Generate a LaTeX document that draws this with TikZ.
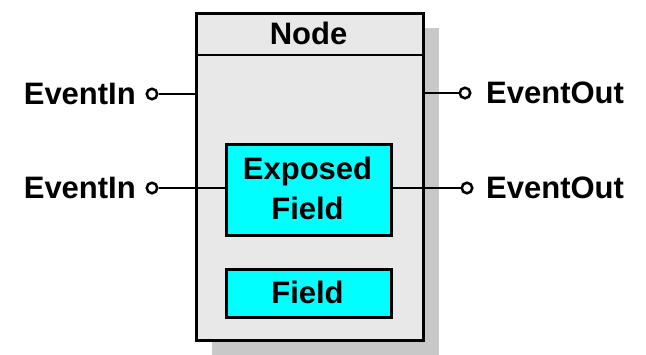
\documentclass[tikz,border=0pt]{standalone}
\usepackage{fontspec}
\setmainfont{Liberation Sans}
\begin{document}
\begin{tikzpicture}[x=1pt,y=-1pt,
  lbl/.style={font=\fontsize{31}{40}\selectfont\bfseries, inner sep=0pt},
  frame/.style={draw=black, line width=2.9pt},
  field/.style={frame, fill=fieldcyan, inner sep=0pt, anchor=north west},
  port/.style={circle, draw=black, fill=white, line width=2.5pt, inner sep=0pt, minimum size=10.5pt},
  wire/.style={line width=2.6pt}]
\definecolor{panelgray}{RGB}{232,232,232}
\definecolor{shadowgray}{RGB}{200,200,200}
\definecolor{fieldcyan}{RGB}{0,255,255}
\useasboundingbox (0,0) rectangle (646,354);
% drop shadow behind the node body
\fill[shadowgray] (212,28) rectangle (439,360);
% node body with its title bar
\node[frame, fill=panelgray, minimum width=227pt, minimum height=327pt, inner sep=0pt, anchor=north west] (box) at (195,12) {};
\coordinate (hl) at (195,55);
\coordinate (hr) at (422,55);
\draw[frame] (hl) -- (hr);
\node[lbl] (title) at (308.5,33) {Node};
% inner fields
\node[field, minimum width=165pt, minimum height=91pt] (exposed) at (225,143) {};
\node[lbl, align=center] (exptext) at (307.5,188) {Exposed\\Field};
\node[field, minimum width=165pt, minimum height=48pt] (fld) at (225,268) {};
\node[lbl] (fldtext) at (307.5,292) {Field};
% ports
\node[port] (in1) at (152,94) {};
\node[port] (in2) at (152,188) {};
\node[port] (out1) at (465,93) {};
\node[port] (out2) at (467,188) {};
\draw[wire] (in1) -- (in1 -| box.west);
\draw[wire] (in2) -- (in2 -| exposed.west);
\draw[wire] (out1) -- (out1 -| box.east);
\draw[wire] (out2) -- (out2 -| exposed.east);
% port labels
\node[lbl, anchor=east] (inl1) at (136,94) {EventIn};
\node[lbl, anchor=east] (inl2) at (136,188) {EventIn};
\node[lbl, anchor=west] (outl1) at (486,93) {EventOut};
\node[lbl, anchor=west] (outl2) at (486,188) {EventOut};
\end{tikzpicture}
\end{document}
